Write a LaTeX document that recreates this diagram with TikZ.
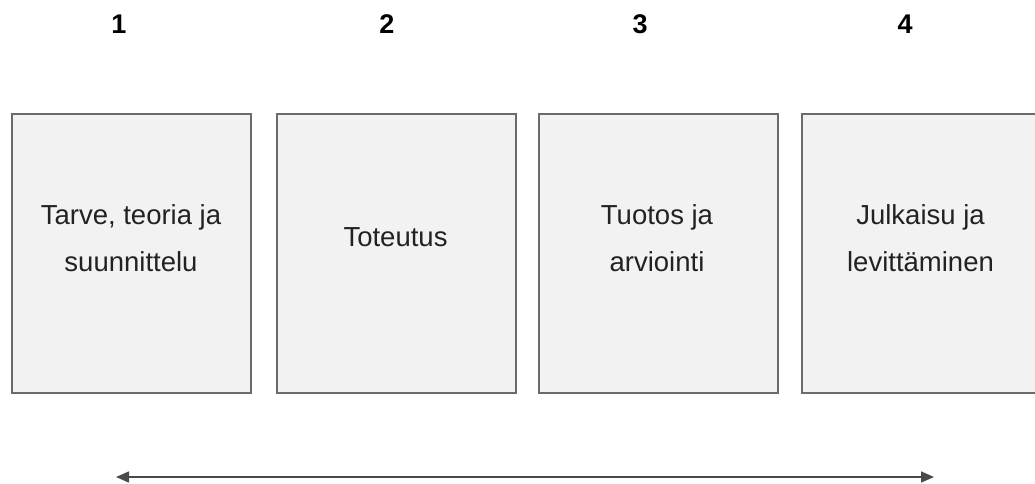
\documentclass[tikz,border=0pt]{standalone}
\usepackage{fontspec}
\setmainfont{Liberation Sans}
\usetikzlibrary{arrows.meta}
\definecolor{boxfill}{HTML}{F2F2F2}
\definecolor{boxline}{HTML}{6B6B6B}
\definecolor{txt}{HTML}{222222}
\definecolor{arr}{HTML}{4A4A4A}
\begin{document}
\begin{tikzpicture}[x=1pt,y=-1pt,
  stagebox/.style={draw=boxline,line width=1.8pt,fill=boxfill,minimum width=239pt,minimum height=279pt,inner sep=0pt,anchor=north west},
  stagetext/.style={text=txt,align=center,font=\fontsize{27.5}{47}\selectfont,inner sep=0pt},
  num/.style={text=black,font=\fontsize{27}{30}\selectfont\bfseries,inner sep=0pt,anchor=base}]
\useasboundingbox (0,0) rectangle (1035,483);
\node[stagebox] (b1) at (11,113) {};
\node[stagebox] (b2) at (276,113) {};
\node[stagebox] (b3) at (538,113) {};
\node[stagebox] (b4) at (801,113) {};
\node[stagetext] (t1) at (131,238) {Tarve, teoria ja\\suunnittelu};
\node[stagetext,anchor=base] (t2) at (395.5,246) {Toteutus};
\node[stagetext] (t3) at (657,238) {Tuotos ja\\arviointi};
\node[stagetext] (t4) at (920.5,238) {Julkaisu ja\\levittäminen};
\node[num] (n1) at (119,33) {1};
\node[num] (n2) at (387,33) {2};
\node[num] (n3) at (640,33) {3};
\node[num] (n4) at (905,33) {4};
\coordinate (al) at (116,477);
\coordinate (ar) at (934,477);
\draw[arr,line width=1.5pt,{Triangle[length=13pt,width=11pt]}-{Triangle[length=13pt,width=11pt]}] (al) -- (ar);
\end{tikzpicture}
\end{document}
